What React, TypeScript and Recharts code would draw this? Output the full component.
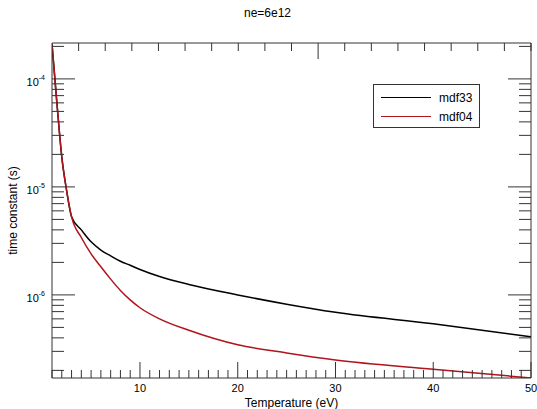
import { LineChart, Line, XAxis, YAxis, Legend } from "recharts";

// temperature grid (eV) and the two time-constant curves (s)
const temps = [1, 1.5, 2, 2.5, 3, 4, 5, 6, 7, 8, 9, 10, 12, 15, 20, 25, 30, 40, 50];
const mdf33 = [
  2.1e-4, 6.0e-5, 1.9e-5, 9.2e-6, 5.3e-6, 4.0e-6, 3.1e-6, 2.6e-6, 2.3e-6, 2.05e-6,
  1.88e-6, 1.72e-6, 1.48e-6, 1.25e-6, 1.0e-6, 8.2e-7, 6.9e-7, 5.4e-7, 4.1e-7,
];
const mdf04 = [
  2.1e-4, 6.0e-5, 1.9e-5, 9.2e-6, 5.3e-6, 3.4e-6, 2.4e-6, 1.82e-6, 1.4e-6, 1.1e-6,
  9.0e-7, 7.6e-7, 6.0e-7, 4.7e-7, 3.45e-7, 2.9e-7, 2.5e-7, 2.05e-7, 1.7e-7,
];

const seriesNames = ["mdf33", "mdf04"];
const seriesColors = ["#000000", "#b0141c"];

const xTicks = Array.from({ length: 50 }, (_, i) => i + 1);
const yTicks = [
  2e-7, 3e-7, 4e-7, 5e-7, 6e-7, 7e-7, 8e-7, 9e-7,
  1e-6, 2e-6, 3e-6, 4e-6, 5e-6, 6e-6, 7e-6, 8e-6, 9e-6,
  1e-5, 2e-5, 3e-5, 4e-5, 5e-5, 6e-5, 7e-5, 8e-5, 9e-5,
  1e-4, 2e-4,
];
const xDomain = [1, 50];
const yDomain = [1.7e-7, 2.15e-4];

const data = temps.map((t, i) => ({ T: t, mdf33: mdf33[i], mdf04: mdf04[i] }));

const AXIS = "#333";
const FONT = "'Liberation Sans', Arial, sans-serif";

const isDecade = (v: number) => Math.abs(Math.log10(v) - Math.round(Math.log10(v))) < 1e-6;

/** x ticks: point inward, labels only every 10 eV */
const BottomTick = ({ x, y, payload }: any) => {
  const major = payload.value % 10 === 0;
  return (
    <g>
      <line x1={x} x2={x} y1={y} y2={y - (major ? 16 : 8)} stroke={AXIS} />
      {major && (
        <text x={x} y={y + 14} textAnchor="middle" fontSize={11} fontFamily={FONT} fill="#000">
          {payload.value}
        </text>
      )}
    </g>
  );
};

const TopTick = ({ x, y, payload }: any) => {
  const major = payload.value % 10 === 0;
  return <line x1={x} x2={x} y1={y} y2={y + (major ? 16 : 8)} stroke={AXIS} />;
};

/** log y ticks: long at decades, label as 10^n */
const LeftTick = ({ x, y, payload }: any) => {
  const major = isDecade(payload.value);
  const exp = Math.round(Math.log10(payload.value));
  return (
    <g>
      <line x1={x} x2={x + (major ? 23 : 12)} y1={y} y2={y} stroke={AXIS} />
      {major && (
        <text x={x - 7} y={y + 7} textAnchor="end" fontSize={11} fontFamily={FONT} fill="#000">
          <tspan>10</tspan>
          <tspan dy={-6} fontSize={7}>{exp}</tspan>
        </text>
      )}
    </g>
  );
};

const RightTick = ({ x, y, payload }: any) => {
  const major = isDecade(payload.value);
  return <line x1={x} x2={x - (major ? 23 : 12)} y1={y} y2={y} stroke={AXIS} />;
};

const LegendBox = () => (
  <div
    style={{
      border: `1px solid ${AXIS}`,
      width: 105,
      height: 42,
      background: "#fff",
      fontFamily: FONT,
      fontSize: 12,
      boxSizing: "content-box",
    }}
  >
    {seriesNames.map((name, i) => (
      <div key={name} style={{ display: "flex", alignItems: "center", height: 19, marginTop: i === 0 ? 3 : 0 }}>
        <div style={{ width: 50, marginLeft: 7, borderTop: `1.5px solid ${seriesColors[i]}` }} />
        <span style={{ marginLeft: 8 }}>{name}</span>
      </div>
    ))}
  </div>
);

export default function App() {
  return (
    <div style={{ position: "absolute", left: 0, top: 0, width: 537, height: 409, background: "#fff" }}>
      <div
        style={{
          position: "absolute",
          left: 0,
          width: 537,
          top: 6,
          textAlign: "center",
          fontFamily: FONT,
          fontSize: 12,
        }}
      >
        <span style={{ position: "relative", left: -1 }}>ne=6e12</span>
      </div>
      <LineChart width={537} height={409} data={data} margin={{ top: 0, right: 0, left: 0, bottom: 0 }}>
        <XAxis
          xAxisId="b"
          dataKey="T"
          type="number"
          domain={xDomain}
          ticks={xTicks}
          interval={0}
          allowDataOverflow
          height={31}
          stroke={AXIS}
          tickLine={false}
          tickSize={0}
          tickMargin={0}
          tick={<BottomTick />}
          label={{ value: "Temperature (eV)", position: "insideBottom", offset: 2, fontSize: 12, fontFamily: FONT, fill: "#000" }}
        />
        <XAxis
          xAxisId="t"
          orientation="top"
          type="number"
          domain={xDomain}
          ticks={xTicks}
          interval={0}
          allowDataOverflow
          height={43}
          stroke={AXIS}
          tickLine={false}
          tickSize={0}
          tickMargin={0}
          tick={<TopTick />}
        />
        <YAxis
          yAxisId="l"
          type="number"
          scale="log"
          domain={yDomain}
          ticks={yTicks}
          interval={0}
          allowDataOverflow
          width={52}
          stroke={AXIS}
          tickLine={false}
          tickSize={0}
          tickMargin={0}
          tick={<LeftTick />}
          label={{ value: "time constant (s)", angle: -90, position: "center", dx: -13, fontSize: 12, fontFamily: FONT, fill: "#000" }}
        />
        <YAxis
          yAxisId="r"
          orientation="right"
          type="number"
          scale="log"
          domain={yDomain}
          ticks={yTicks}
          interval={0}
          allowDataOverflow
          width={6}
          stroke={AXIS}
          tickLine={false}
          tickSize={0}
          tickMargin={0}
          tick={<RightTick />}
        />
        <Legend
          layout="vertical"
          align="center"
          verticalAlign="middle"
          content={<LegendBox />}
          wrapperStyle={{ left: 373, top: 84, width: 107 }}
        />
        {seriesNames.map((name, i) => (
          <Line
            key={name}
            xAxisId="b"
            yAxisId="l"
            type="monotone"
            dataKey={name}
            name={name}
            stroke={seriesColors[i]}
            strokeWidth={1.5}
            dot={false}
            isAnimationActive={false}
          />
        ))}
      </LineChart>
    </div>
  );
}
